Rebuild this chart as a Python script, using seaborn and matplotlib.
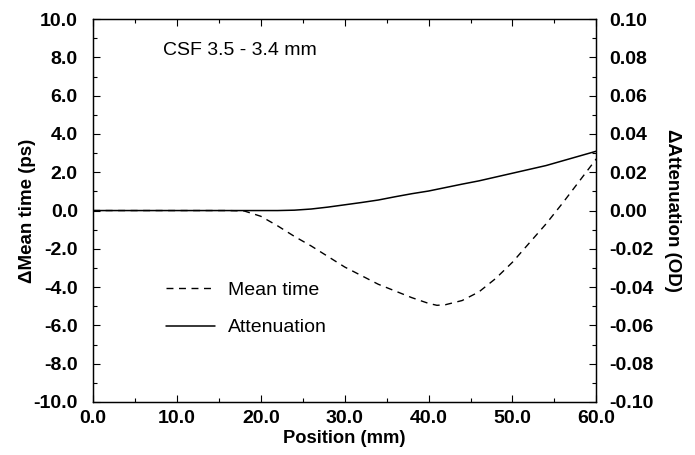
import numpy as np
import pandas as pd
import matplotlib
matplotlib.use('Agg')
import matplotlib.pyplot as plt
from matplotlib.ticker import MultipleLocator, FuncFormatter
import seaborn as sns

# data (position in mm)
pos_mean = [0, 10, 16, 18, 20, 22, 24, 26, 28, 30, 32, 34, 36, 38, 40, 41,
            42, 44, 46, 48, 50, 52, 54, 56, 58, 60]
mean_time = [0.0, 0.0, 0.0, -0.02, -0.3, -0.8, -1.35, -1.85, -2.4, -2.95, -3.4,
             -3.85, -4.2, -4.55, -4.85, -4.95, -4.92, -4.7, -4.25, -3.55, -2.7,
             -1.7, -0.7, 0.4, 1.55, 2.7]

pos_att = [0, 10, 20, 22, 24, 26, 28, 30, 32, 34, 36, 38, 40, 42, 44, 46, 48,
           50, 52, 54, 56, 58, 60]
attenuation = [0.0, 0.0, 0.0, 0.0, 0.0002, 0.0008, 0.0018, 0.003, 0.0042,
               0.0055, 0.0072, 0.0088, 0.0102, 0.012, 0.0138, 0.0155, 0.0175,
               0.0195, 0.0215, 0.0235, 0.026, 0.0285, 0.031]

df_mean = pd.DataFrame({'pos': pos_mean, 'val': mean_time})
df_att = pd.DataFrame({'pos': pos_att, 'val': attenuation})


def fmt(decimals):
    # avoid "-0.00" labels
    def f(v, _):
        s = f'{v:.{decimals}f}'
        if float(s) == 0:
            s = f'{0:.{decimals}f}'
        return s
    return FuncFormatter(f)


sns.set_style('white', {'text.color': 'black', 'axes.labelcolor': 'black',
                        'xtick.color': 'black', 'ytick.color': 'black'})
plt.rcParams['font.family'] = ['Liberation Sans', 'DejaVu Sans']

fig = plt.figure(figsize=(6.95, 4.55), dpi=100)
ax = fig.add_axes([0.134, 0.1165, 0.724, 0.8415])
ax2 = ax.twinx()

sns.lineplot(data=df_mean, x='pos', y='val', ax=ax, color='black', lw=1.0,
             linestyle=(0, (5, 4)), label='Mean time', legend=False)
sns.lineplot(data=df_att, x='pos', y='val', ax=ax2, color='black', lw=1.1,
             label='Attenuation', legend=False)

ax.set_xlim(0, 60)
ax.set_ylim(-10, 10)
ax2.set_ylim(-0.1, 0.1)

ax.xaxis.set_major_locator(MultipleLocator(10))
ax.xaxis.set_minor_locator(MultipleLocator(5))
ax.yaxis.set_major_locator(MultipleLocator(2))
ax.yaxis.set_minor_locator(MultipleLocator(1))
ax2.yaxis.set_major_locator(MultipleLocator(0.02))
ax2.yaxis.set_minor_locator(MultipleLocator(0.01))
ax.xaxis.set_major_formatter(fmt(1))
ax.yaxis.set_major_formatter(fmt(1))
ax2.yaxis.set_major_formatter(fmt(2))

ax.tick_params(axis='x', which='both', direction='in', top=True, bottom=True)
ax.tick_params(axis='y', which='both', direction='in', left=True, right=False)
ax2.tick_params(axis='y', which='both', direction='in', right=True)
for a in (ax, ax2):
    a.tick_params(which='major', length=5, width=0.8, labelsize=14,
                  colors='black')
    a.tick_params(which='minor', length=3, width=0.8, colors='black')
    for s in a.spines.values():
        s.set_color('black')
        s.set_linewidth(0.9)
ax.tick_params(axis='x', pad=6)
ax.tick_params(axis='y', pad=11)
ax2.tick_params(axis='y', pad=9)
for lab in ax.get_xticklabels() + ax.get_yticklabels() + ax2.get_yticklabels():
    lab.set_fontweight('bold')

ax.set_xlabel('Position (mm)', fontsize=13.2, fontweight='bold', labelpad=2,
              color='black')
ax.set_ylabel('\u0394Mean time (ps)', fontsize=13.5, fontweight='bold',
              labelpad=-2, color='black')
ax2.set_ylabel('\u0394Attenuation (OD)', fontsize=13.5, fontweight='bold',
               rotation=270, labelpad=20, color='black')

ax.text(0.139, 0.918, 'CSF 3.5 - 3.4 mm', transform=ax.transAxes, fontsize=14,
        va='center', ha='left', color='black')

handles = ax.get_lines()[:1] + ax2.get_lines()[:1]
leg = ax.legend(handles, ['Mean time', 'Attenuation'], loc='upper left',
                bbox_to_anchor=(0.11, 0.36), frameon=False, fontsize=14,
                handlelength=2.5, handletextpad=0.7, labelspacing=1.0)
for t in leg.get_texts():
    t.set_color('black')

fig.savefig('out.png', dpi=100)
